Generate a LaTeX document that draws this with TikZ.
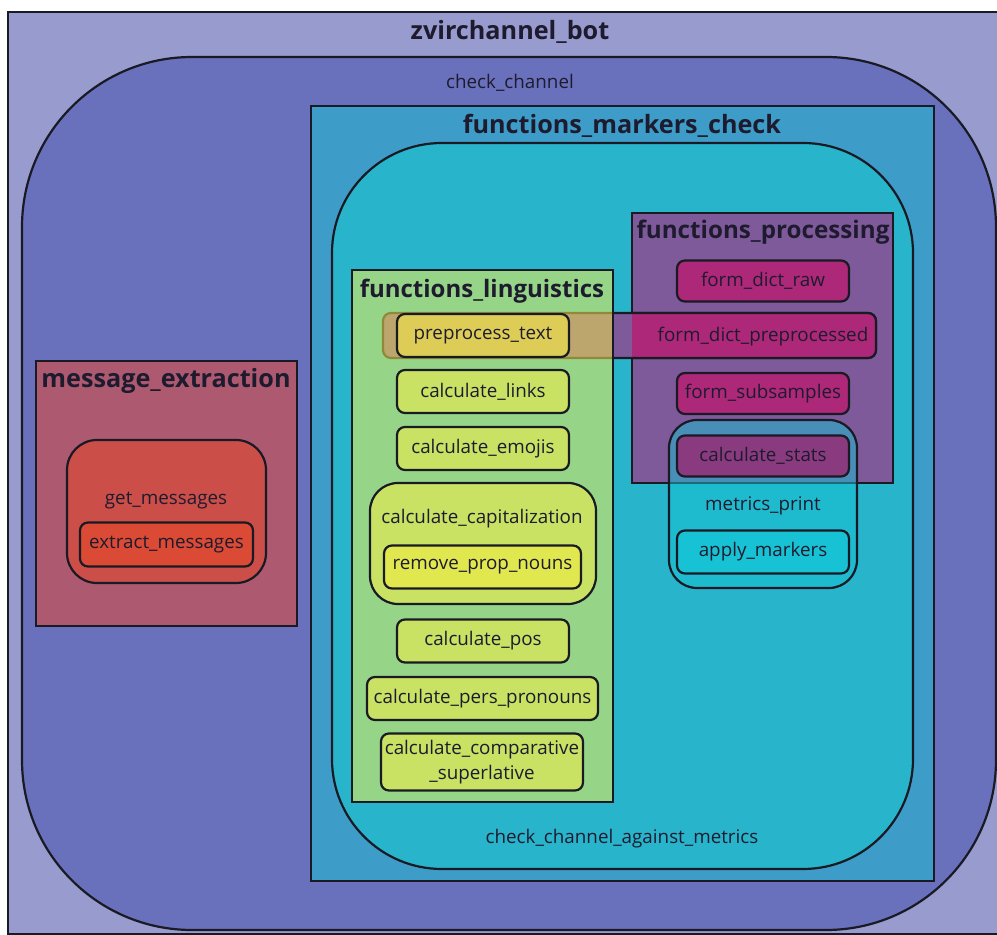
\documentclass[tikz,border=0pt]{standalone}
\usepackage{fontspec}
\setmainfont{Open Sans}
\usepackage{xcolor}
\usepackage{tikz}
\definecolor{outerbg}{HTML}{979BCE}
\definecolor{chanbg}{HTML}{6A71BC}
\definecolor{markbg}{HTML}{3E9DC8}
\definecolor{agbg}{HTML}{28B4CB}
\definecolor{lingbg}{HTML}{96D588}
\definecolor{lingitem}{HTML}{C9E264}
\definecolor{pretext}{HTML}{DDCD56}
\definecolor{bandtan}{HTML}{BCA66D}
\definecolor{bandline}{HTML}{8E8A3A}
\definecolor{removebg}{HTML}{E1E74E}
\definecolor{procbg}{HTML}{7E5A9B}
\definecolor{procitem}{HTML}{AD2879}
\definecolor{statsbg}{HTML}{8A3A7F}
\definecolor{metricsbg}{HTML}{16C2D3}
\definecolor{msgbg}{HTML}{AD5A71}
\definecolor{getbg}{HTML}{CB4E49}
\definecolor{extractbg}{HTML}{DB4A35}
\definecolor{linec}{HTML}{1A1A24}
\definecolor{textc}{HTML}{1E1B2E}
\tikzset{
  region/.style={draw=linec, line width=1.1pt, inner sep=0pt, outer sep=0pt},
  grp/.style={draw=linec, line width=1.1pt, inner sep=0pt, rounded corners=14pt},
  func/.style={draw=linec, line width=1.1pt, inner sep=0pt, rounded corners=4pt,
    minimum width=86pt, minimum height=21.5pt, text=textc, font=\fontsize{9.4}{11}\selectfont},
  ttl/.style={text=textc, font=\fontsize{12.6}{14}\selectfont\bfseries},
  lbl/.style={text=textc, font=\fontsize{9.4}{11}\selectfont}
}

\begin{document}
\begin{tikzpicture}[x=0.5pt, y=-0.5pt]
  \useasboundingbox (0,0) rectangle (997,935);

  \node[region, fill=outerbg, minimum width=501pt, minimum height=461pt] (bot) at (509,473) {};
  \node[ttl] (bottitle) at (510,32) {zvirchannel\_bot};

  \node[region, fill=chanbg, minimum width=487pt, minimum height=436.5pt, rounded corners=85pt] (chan) at (509,493.5) {};
  \node[lbl] (chanlabel) at (510,83) {check\_channel};

  \node[region, fill=markbg, minimum width=311.5pt, minimum height=387.5pt] (mark) at (622.5,493.5) {};
  \node[ttl] (marktitle) at (622,126) {functions\_markers\_check};

  \node[region, fill=agbg, minimum width=290.5pt, minimum height=363pt, rounded corners=55pt] (against) at (622.5,506) {};
  \node[lbl] (againstlabel) at (622,839) {check\_channel\_against\_metrics};

  \node[region, fill=procbg, minimum width=130.5pt, minimum height=135pt] (proc) at (762.5,348) {};
  \node[ttl, font=\fontsize{12.1}{14}\selectfont\bfseries] (proctitle) at (763,232) {functions\_processing};

  \node[func, fill=procbg, minimum width=246.5pt, minimum height=22.5pt] (dictband) at (629.5,335.5) {};
  \begin{scope}
    \clip (proc.north west) rectangle (proc.south east);
    \node[func, fill=procitem, minimum width=246.5pt, minimum height=22.5pt] (dictbandR) at (dictband.center) {};
  \end{scope}

  \node[region, fill=lingbg, minimum width=130.5pt, minimum height=266pt] (ling) at (482.5,536) {};
  \begin{scope}
    \clip (ling.north west) rectangle (ling.south east);
    \node[func, fill=bandtan, draw=bandline, minimum width=246.5pt, minimum height=22.5pt] (dictbandL) at (dictband.center) {};
  \end{scope}
  \draw[region] (ling.north west) rectangle (ling.south east);
  \node[ttl, font=\fontsize{12}{14}\selectfont\bfseries] (lingtitle) at (482,291) {functions\_linguistics};

  \node[func, fill=pretext] (pre) at (483,335.5) {preprocess\_text};
  \node[func, fill=lingitem] (links) at (483,391.5) {calculate\_links};
  \node[func, fill=lingitem] (emojis) at (483,448.5) {calculate\_emojis};
  \node[grp, fill=lingitem, minimum width=113pt, minimum height=60.5pt] (cap) at (483,543.5) {};
  \node[lbl] (caplabel) at (482,519) {calculate\_capitalization};
  \node[func, fill=removebg, minimum width=98.5pt] (remove) at (482.5,567) {remove\_prop\_nouns};
  \node[func, fill=lingitem] (pos) at (483,641) {calculate\_pos};
  \node[func, fill=lingitem, minimum width=115.5pt] (pers) at (482.5,698.5) {calculate\_pers\_pronouns};
  \node[func, fill=lingitem, minimum width=101pt, minimum height=28.5pt, align=center,
    font=\fontsize{9.4}{12.8}\selectfont] (comp) at (482,762) {calculate\_comparative\\\_superlative};

  \node[func, fill=procitem, minimum height=20.5pt] (raw) at (763,281) {form\_dict\_raw};
  \node[lbl] (dicttext) at (763,337) {form\_dict\_preprocessed};
  \node[func, fill=procitem, minimum height=20.5pt] (subs) at (763,393.5) {form\_subsamples};

  \node[grp, fill=metricsbg, fill opacity=0.5, minimum width=94pt, minimum height=84pt] (metrics) at (763,504) {};
  \node[lbl] (metricslabel) at (763,506) {metrics\_print};
  \node[func, fill=statsbg, minimum height=20.5pt] (stats) at (763,456) {calculate\_stats};
  \node[func, fill=metricsbg] (apply) at (763,552) {apply\_markers};

  \node[region, fill=msgbg, minimum width=130.5pt, minimum height=132.5pt] (msg) at (166.5,493.5) {};
  \node[ttl] (msgtitle) at (166,381) {message\_extraction};
  \node[grp, fill=getbg, minimum width=99.5pt, minimum height=71.5pt, rounded corners=15pt] (get) at (166.5,511.5) {};
  \node[lbl] (getlabel) at (166,501) {get\_messages};
  \node[func, fill=extractbg, minimum width=86.5pt, minimum height=22pt] (extract) at (166.5,544.5) {extract\_messages};
\end{tikzpicture}
\end{document}
